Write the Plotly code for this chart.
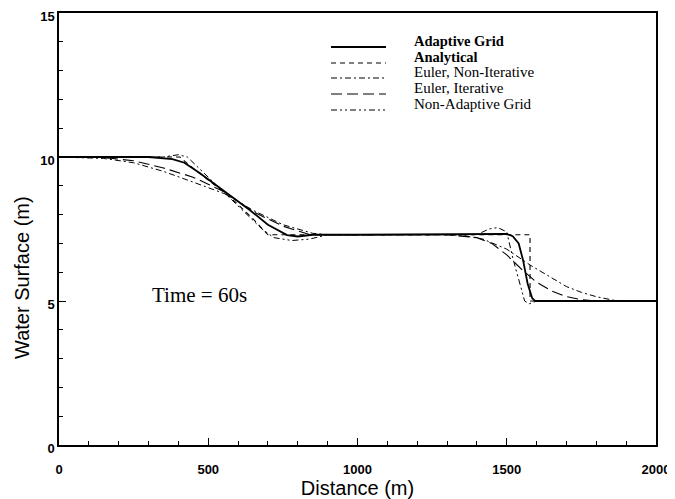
import plotly.graph_objects as go

# ---- data ----
adaptive_x = [0, 300, 380, 420, 470, 556, 640, 700, 764, 800, 850, 1000, 1300, 1450, 1500, 1520, 1540, 1555, 1570, 1585, 1595, 1620, 2000]
adaptive_y = [10.0, 10.0, 9.93, 9.8, 9.45, 8.78, 8.15, 7.65, 7.29, 7.24, 7.3, 7.3, 7.32, 7.35, 7.33, 7.25, 7.0, 6.4, 5.6, 5.1, 5.0, 5.0, 5.0]

analytical_x = [0, 405, 450, 500, 556, 600, 650, 700, 1000, 1500, 1578, 1578, 2000]
analytical_y = [10.0, 10.0, 9.6, 9.2, 8.75, 8.35, 7.85, 7.3, 7.3, 7.3, 7.3, 5.0, 5.0]

euler_ni_x = [0, 150, 250, 350, 449, 556, 650, 750, 850, 900, 1300, 1350, 1420, 1500, 1578, 1650, 1700, 1750, 1800, 1856, 1900, 2000]
euler_ni_y = [10.0, 9.95, 9.8, 9.5, 9.13, 8.72, 8.15, 7.65, 7.35, 7.3, 7.3, 7.28, 7.15, 6.8, 6.25, 5.8, 5.5, 5.3, 5.15, 5.03, 5.0, 5.0]

euler_it_x = [0, 150, 250, 350, 449, 556, 650, 750, 841, 1000, 1300, 1400, 1450, 1500, 1550, 1600, 1650, 1700, 1750, 1800, 2000]
euler_it_y = [10.0, 9.98, 9.87, 9.62, 9.3, 8.78, 8.1, 7.6, 7.3, 7.3, 7.3, 7.2, 7.0, 6.6, 6.1, 5.65, 5.35, 5.15, 5.05, 5.0, 5.0]

nonadapt_x = [0, 350, 400, 430, 470, 556, 620, 680, 720, 780, 840, 900, 1400, 1440, 1470, 1500, 1520, 1540, 1560, 1575, 1600, 2000]
nonadapt_y = [10.0, 10.0, 10.08, 10.0, 9.6, 8.75, 8.1, 7.5, 7.2, 7.1, 7.15, 7.3, 7.3, 7.5, 7.55, 7.4, 6.5, 5.7, 5.0, 4.9, 5.0, 5.0]

series_names = ["Adaptive Grid", "Analytical", "Euler, Non-Iterative", "Euler, Iterative", "Non-Adaptive Grid"]
x_ticks = [0, 500, 1000, 1500, 2000]
y_ticks = [0, 5, 10, 15]

styles = [
    dict(dash="solid", width=1.8),
    dict(dash="5px,4px", width=1.1),
    dict(dash="6px,3px,2px,3px", width=1.0),
    dict(dash="11px,5px", width=1.1),
    dict(dash="6px,3px,2px,3px,2px,3px", width=1.0),
]
xs = [adaptive_x, analytical_x, euler_ni_x, euler_it_x, nonadapt_x]
ys = [adaptive_y, analytical_y, euler_ni_y, euler_it_y, nonadapt_y]

fig = go.Figure()
for name, x, y, st in zip(series_names, xs, ys, styles):
    fig.add_trace(go.Scatter(x=x, y=y, mode="lines", name=name, showlegend=False,
                             line=dict(color="black", width=st["width"], dash=st["dash"])))

# page body has an 8px margin: figure is shifted by (8, 8) in the window
OFF = 8
W, H = 675 - OFF, 499 - OFF
ml, mr, mt, mb = 59 - OFF, 19, 13 - OFF, 54
pw, ph = W - ml - mr, H - mt - mb

def px(xp):  # window pixel -> paper
    return (xp - OFF - ml) / pw

def py(yp):
    return 1 - (yp - OFF - mt) / ph

# custom legend (line samples + labels)
leg_y = [41, 57, 72, 88, 104]
bold = [True, True, False, False, False]
shapes = []
annotations = []
for name, st, yy, b in zip(series_names, styles, leg_y, bold):
    shapes.append(dict(type="line", xref="paper", yref="paper",
                       x0=px(331), x1=px(386), y0=py(yy + 6), y1=py(yy + 6),
                       line=dict(color="black", width=st["width"], dash=st["dash"])))
    annotations.append(dict(xref="paper", yref="paper", x=px(412), y=py(yy),
                            text=f"<b>{name}</b>" if b else name, showarrow=False,
                            xanchor="left", yanchor="middle",
                            font=dict(family="Liberation Serif", size=14.5 if b else 15, color="black")))

annotations.append(dict(xref="x", yref="y", x=305, y=5.2, text="Time = 60s",
                        showarrow=False, xanchor="left", yanchor="middle",
                        font=dict(family="Liberation Serif", size=21, color="black")))

annotations.append(dict(xref="paper", yref="paper", x=px(22), y=py(278), text="Water Surface (m)",
                        textangle=-90, showarrow=False, xanchor="center", yanchor="middle",
                        font=dict(family="Liberation Sans", size=20, color="black")))

fig.update_layout(
    width=W, height=H,
    margin=dict(l=ml, r=mr, t=mt, b=mb, autoexpand=False),
    paper_bgcolor="white", plot_bgcolor="white",
    shapes=shapes, annotations=annotations,
    font=dict(family="Liberation Sans", color="black"),
)
fig.update_xaxes(range=[0, 2000], tickvals=x_ticks, ticktext=[f"<b>{v}</b>" for v in x_ticks],
                 ticks="inside", ticklen=7, tickwidth=1, automargin=False, ticklabelstandoff=12,
                 ticklabeloverflow="allow",
                 tickcolor="black", showline=True, linecolor="black", linewidth=1.5, mirror=True,
                 showgrid=False, zeroline=False,
                 minor=dict(dtick=100, ticks="inside", ticklen=4, tickcolor="black", showgrid=False),
                 tickfont=dict(family="Liberation Sans", size=13, color="black"),
                 title=dict(text="Distance (m)", font=dict(family="Liberation Sans", size=20), standoff=2))
fig.update_yaxes(range=[0, 15], tickvals=y_ticks, ticktext=[f"<b>{v}</b>" for v in y_ticks],
                 ticks="inside", ticklen=7, tickwidth=1, automargin=False,
                 ticklabeloverflow="allow", ticklabelshift=3,
                 tickcolor="black", showline=True, linecolor="black", linewidth=1.5, mirror=True,
                 showgrid=False, zeroline=False,
                 minor=dict(dtick=1, ticks="inside", ticklen=4, tickcolor="black", showgrid=False),
                 tickfont=dict(family="Liberation Sans", size=13, color="black"))

fig.write_html("out.html")
